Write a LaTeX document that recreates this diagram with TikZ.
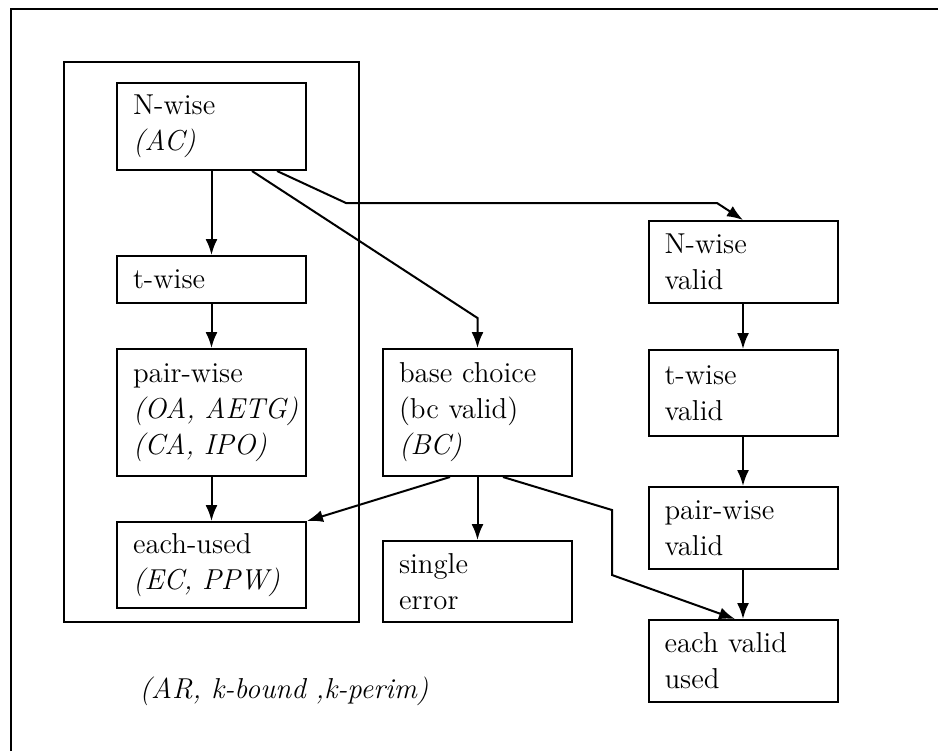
\documentclass[tikz,border=0pt]{standalone}
\usepackage{tikz}
\usetikzlibrary{positioning}
\usetikzlibrary{arrows.meta}

\begin{document}
\begin{tikzpicture}[x=0.5pt,y=-0.5pt,
  blk/.style={draw, line width=1pt, font=\Large, align=left, text width=78.5pt,
    inner xsep=8pt, inner ysep=2pt},
  >={Latex[length=8pt,width=6pt]}]
\useasboundingbox (0,0) rectangle (938,751);
%\draw (0,0) rectangle (938,751);
\draw[line width=1.4pt] (11,751) -- (11,9) -- (938,9);
\draw[line width=1pt] (64,62) rectangle (359,622);
% left column
\node[blk, minimum height=43.5pt] (nw) at (211.5,126.5) {N-wise\\ \textit{(AC)}};
\node[blk, minimum height=23.5pt] (tw) at (211.5,279.5) {t-wise};
\node[blk, minimum height=63.5pt] (pw) at (211.5,412.5) {pair-wise\\ \mbox{\textit{(OA, AETG)}}\\ \textit{(CA, IPO)}};
\node[blk, minimum height=43pt] (eu) at (211.5,565) {each-used\\ \textit{(EC, PPW)}};
% middle column
\node[blk, minimum height=63.5pt] (bc) at (477.5,412.5) {base choice\\ (bc valid)\\ \textit{(BC)}};
\node[blk, minimum height=40.5pt] (se) at (477.5,581.5) {single\\ error};
% right column
\node[blk, minimum height=41pt] (nwv) at (743,262) {N-wise\\ valid};
\node[blk, minimum height=43pt] (twv) at (743,393) {t-wise\\ valid};
\node[blk, minimum height=41pt] (pwv) at (743,528) {pair-wise\\ valid};
\node[blk, minimum height=41pt] (evu) at (743,661) {each valid\\ used};
\node[font=\Large] (ar) at (284,691) {\textit{(AR, k-bound ,k-perim)}};
% bend points
\coordinate (k1) at (346,203);
\coordinate (k2) at (717,203);
\coordinate (k3) at (477.5,318);
\coordinate (k4) at (612,510);
\coordinate (k5) at (612,575);
\draw[->,line width=1pt] (nw) -- (tw);
\draw[->,line width=1pt] (tw) -- (pw);
\draw[->,line width=1pt] (pw) -- (eu);
\draw[->,line width=1pt] ([xshift=32.75pt]nw.south) -- (k1) -- (k2) -- (nwv.north);
\draw[->,line width=1pt] ([xshift=20.25pt]nw.south) -- (k3) -- (bc.north);
\draw[->,line width=1pt] ([xshift=-13.75pt]bc.south) -- (eu.north east);
\draw[->,line width=1pt] (bc) -- (se);
\draw[->,line width=1pt] ([xshift=12.75pt]bc.south) -- (k4) -- (k5) -- ([xshift=-4pt]evu.north);
\draw[->,line width=1pt] (nwv) -- (twv);
\draw[->,line width=1pt] (twv) -- (pwv);
\draw[->,line width=1pt] (pwv) -- (evu);
\end{tikzpicture}
\end{document}
